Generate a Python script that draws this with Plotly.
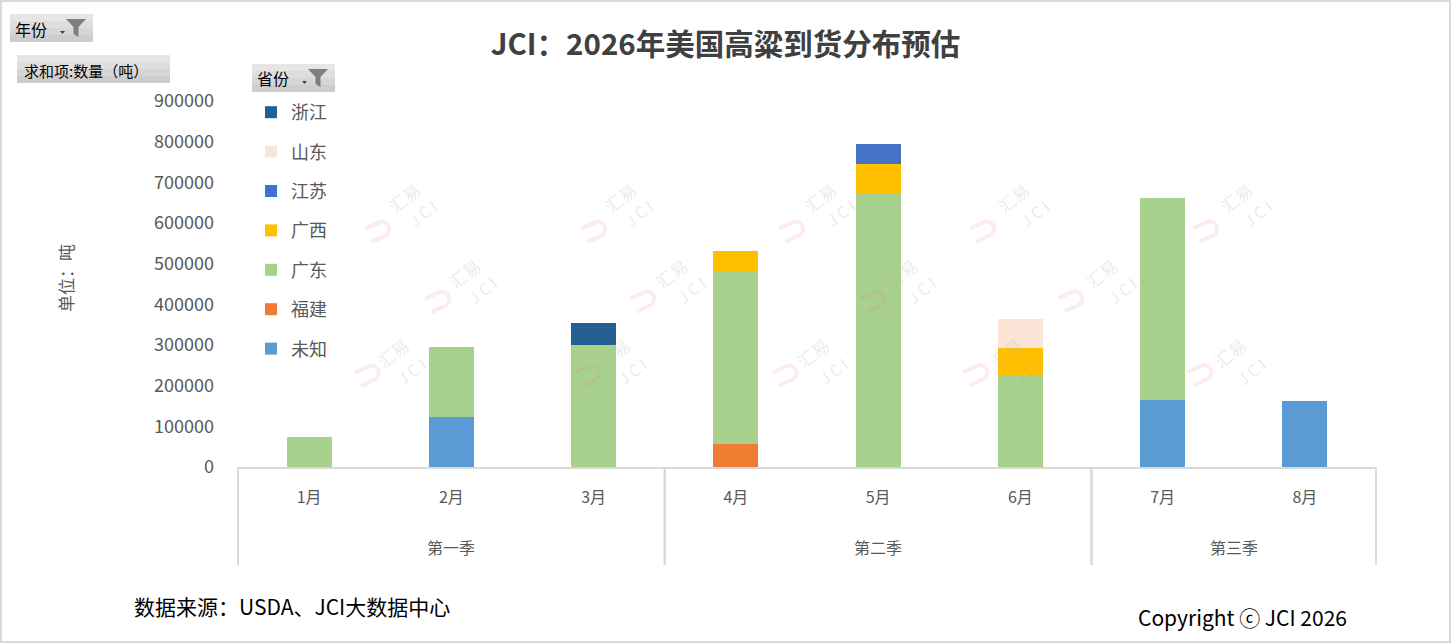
import plotly.graph_objects as go

# ---------------- data ----------------
quarters = ["第一季", "第一季", "第一季", "第二季", "第二季", "第二季", "第三季", "第三季"]
months = ["1月", "2月", "3月", "4月", "5月", "6月", "7月", "8月"]

provinces = ["未知", "福建", "广东", "广西", "江苏", "山东", "浙江"]
v_weizhi = [None, 124000, None, None, None, None, 165000, 163000]
v_fujian = [None, None, None, 57000, None, None, None, None]
v_guangdong = [75000, 172000, 301000, 426000, 673000, 223000, 497000, None]
v_guangxi = [None, None, None, 47000, 71000, 70000, None, None]
v_jiangsu = [None, None, None, None, 51000, None, None, None]
v_shandong = [None, None, None, None, None, 72000, None, None]
v_zhejiang = [None, None, 52000, None, None, None, None, None]
series_values = [v_weizhi, v_fujian, v_guangdong, v_guangxi, v_jiangsu, v_shandong, v_zhejiang]
colors = ["#5B9BD5", "#ED7D31", "#A9D18E", "#FFC000", "#4472C4", "#FBE5D6", "#255E91"]

y_ticks = [0, 100000, 200000, 300000, 400000, 500000, 600000, 700000, 800000, 900000]

title_text = "JCI：2026年美国高粱到货分布预估"
source_text = "数据来源：USDA、JCI大数据中心"
copyright_text = "Copyright ⓒ JCI 2026"

# ---------------- layout geometry (pixels) ----------------
W, H = 1451, 643
L, R, T, B = 237, 1377, 101, 467

def px(x):
    return (x - L) / (R - L)

def py(y):
    return (B - y) / (B - T)

CJK = "Noto Sans CJK SC"
GREY = "#595959"
LINE = "#D9D9D9"

fig = go.Figure()
n = len(provinces)
for i, (name, vals, col) in enumerate(zip(provinces, series_values, colors)):
    fig.add_trace(go.Bar(
        x=months, y=vals, name=name, marker_color=col,
        marker_line_width=0, legendgroup=name, legendrank=100 + (n - i),
    ))

shapes = []
annotations = []

# outer border
shapes.append(dict(type="rect", xref="paper", yref="paper",
                   x0=px(1), x1=px(W - 1), y0=py(H - 1), y1=py(1),
                   line=dict(color=LINE, width=2), fillcolor="rgba(0,0,0,0)", layer="below"))

# watermarks
wm_pts = [(375, 188), (591, 188), (815, 188), (1032, 188), (1255, 188),
          (435, 287), (666, 287), (896, 287), (1120, 287),
          (364, 390), (585, 390), (808, 390), (1025, 390), (1249, 390)]
for (cx, cy) in wm_pts:
    annotations.append(dict(x=px(cx - 22), y=py(cy + 12), xref="paper", yref="paper",
                            text="<b>⊃</b>", showarrow=False, textangle=-25,
                            font=dict(family="DejaVu Sans", size=38, color="rgba(235,110,110,0.13)")))
    annotations.append(dict(x=px(cx + 5), y=py(cy - 14), xref="paper", yref="paper",
                            text="汇易", showarrow=False, textangle=-38,
                            font=dict(family=CJK, size=17, color="rgba(170,170,170,0.25)")))
    annotations.append(dict(x=px(cx + 25), y=py(cy + 3), xref="paper", yref="paper",
                            text="J C I", showarrow=False, textangle=-38,
                            font=dict(family=CJK, size=16, color="rgba(170,170,170,0.25)")))

# pivot-table buttons
def button(x0, y0, x1, y1):
    bands = ["#E6E6E6", "#DEDEDE", "#D6D6D6", "#CDCDCD"]
    h = (y1 - y0) / len(bands)
    for i, c in enumerate(bands):
        shapes.append(dict(type="rect", xref="paper", yref="paper",
                           x0=px(x0), x1=px(x1), y0=py(y0 + (i + 1) * h), y1=py(y0 + i * h),
                           line=dict(width=0), fillcolor=c, layer="above"))

def funnel(x0, y0):
    pts = [(x0, y0), (x0 + 20, y0), (x0 + 12.5, y0 + 8), (x0 + 12.5, y0 + 18),
           (x0 + 7.5, y0 + 15), (x0 + 7.5, y0 + 8)]
    path = "M " + " L ".join(f"{px(a):.5f},{py(b):.5f}" for a, b in pts) + " Z"
    shapes.append(dict(type="path", xref="paper", yref="paper", path=path,
                       fillcolor="#7F7F7F", line=dict(width=0), layer="above"))

def arrow(x0, y0):
    pts = [(x0, y0), (x0 + 5, y0), (x0 + 2.5, y0 + 3)]
    path = "M " + " L ".join(f"{px(a):.5f},{py(b):.5f}" for a, b in pts) + " Z"
    shapes.append(dict(type="path", xref="paper", yref="paper", path=path,
                       fillcolor="#404040", line=dict(width=0), layer="above"))

def label(x, y, text, size, color, xanchor="left", angle=0, family=CJK):
    annotations.append(dict(x=px(x), y=py(y), xref="paper", yref="paper",
                            xanchor=xanchor, yanchor="middle", text=text, showarrow=False,
                            textangle=angle, font=dict(family=family, size=size, color=color)))

button(10, 14, 93, 42)
label(13, 29, "年份", 16, "#000000")
arrow(60, 31)
funnel(66, 19)

button(17, 55, 170, 83)
label(22, 70, "求和项:数量（吨）", 15, "#000000")

button(252, 64, 335, 92)
label(255, 78, "省份", 16, "#000000")
arrow(302, 81)
funnel(308, 69)

# y-axis title
label(65, 278, "单位：吨", 17, GREY, xanchor="center", angle=-90)

# footer texts
label(132, 606, source_text, 21, "#000000")
label(1349, 617, copyright_text, 21, "#000000", xanchor="right")

# quarter group labels and dividers (from the quarters list)
groups = []
for i, q in enumerate(quarters):
    if groups and groups[-1][0] == q:
        groups[-1][2] = i
    else:
        groups.append([q, i, i])
for q, i0, i1 in groups:
    annotations.append(dict(x=(i0 + i1) / 2, y=py(547), xref="x", yref="paper",
                            xanchor="center", yanchor="middle", text=q, showarrow=False,
                            font=dict(family=CJK, size=16, color=GREY)))
    for edge in (i0 - 0.5, i1 + 0.5):
        shapes.append(dict(type="line", xref="x", yref="paper", x0=edge, x1=edge,
                           y0=py(467), y1=py(565), line=dict(color=LINE, width=2)))

fig.update_layout(
    width=W, height=H,
    margin=dict(l=L, r=W - R, t=T, b=H - B, pad=0),
    paper_bgcolor="white", plot_bgcolor="white",
    barmode="stack", bargap=0.684,
    title=dict(text="<b>" + title_text + "</b>", x=0.5, xref="container", xanchor="center",
               y=1 - 45 / H, yanchor="middle",
               font=dict(family=CJK, size=29.5, color="#404040")),
    font=dict(family=CJK, color=GREY, size=16),
    legend=dict(x=px(251), y=py(94), xanchor="left", yanchor="top", orientation="v",
                traceorder="grouped", tracegroupgap=13, bgcolor="rgba(0,0,0,0)",
                font=dict(family=CJK, size=18, color=GREY)),
    shapes=shapes, annotations=annotations,
    xaxis=dict(type="category", showline=True, linecolor=LINE, linewidth=2,
               tickfont=dict(family=CJK, size=16, color=GREY), ticks="", showgrid=False,
               ticklabelstandoff=15),
    yaxis=dict(range=[0, 900000], tickvals=y_ticks, ticktext=[str(v) for v in y_ticks],
               showgrid=False, showline=False, zeroline=False, ticks="",
               ticklabelstandoff=22,
               tickfont=dict(family=CJK, size=18, color=GREY)),
)

fig.write_html("out.html", config={"displayModeBar": False},
               post_script="document.body.style.margin='0';")
